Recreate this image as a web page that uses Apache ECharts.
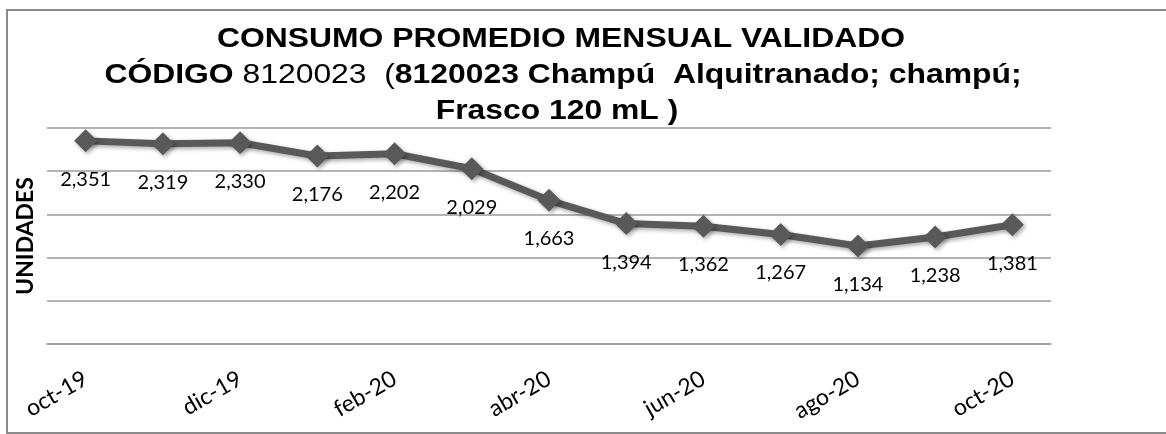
<!DOCTYPE html>
<html>
<head>
<meta charset="utf-8">
<title>Consumo promedio mensual validado</title>
<script src="https://cdn.jsdelivr.net/npm/echarts@6/dist/echarts.min.js"></script>
<style>
  html, body { margin: 0; padding: 0; background: #fff; }
  #chart { width: 1166px; height: 434px; }
</style>
</head>
<body>
<div id="chart"></div>
<script>
// meses (eje x)
const months = ["oct-19", "nov-19", "dic-19", "ene-20", "feb-20", "mar-20", "abr-20",
  "may-20", "jun-20", "jul-20", "ago-20", "sep-20", "oct-20"];
// consumo por mes
const unidades = [2351, 2319, 2330, 2176, 2202, 2029, 1663, 1394, 1362, 1267, 1134, 1238, 1381];
// eje y sin etiquetas visibles
const yTicks = [0, 500, 1000, 1500, 2000, 2500];

const titleLine1 = "CONSUMO PROMEDIO MENSUAL VALIDADO";
const titleLine2 = "{b|CÓDIGO}{n| 8120023  (}{b|8120023 Champú  Alquitranado; champú;}";
const titleLine3 = "Frasco 120 mL )";

const lineColor = "#595959";
const gridColor = "#9a9a9a";
const stretch = 1.18; // el original viene estirado en horizontal
const labelFont = "Lato, 'Open Sans', sans-serif";

const titleFont = {
  fontFamily: "'Liberation Sans', Arial, sans-serif",
  fontSize: 27,
  fill: "#000"
};

const option = {
  animation: false,
  grid: {
    left: 47,
    right: 115,
    top: 128,
    bottom: 90
  },
  graphic: [
    {
      // marco exterior
      type: "rect",
      shape: { x: 7, y: 10, width: 1175, height: 423 },
      style: { fill: null, stroke: "#8a8a8a", lineWidth: 2 },
      silent: true
    },
    {
      type: "text",
      x: 561,
      y: 40,
      scaleX: stretch,
      style: Object.assign({}, titleFont, {
        text: titleLine1,
        fontWeight: "bold",
        align: "center",
        verticalAlign: "middle"
      })
    },
    {
      type: "text",
      x: 563,
      y: 76,
      scaleX: stretch,
      style: Object.assign({}, titleFont, {
        text: titleLine2,
        align: "center",
        verticalAlign: "middle",
        rich: {
          b: { fontFamily: titleFont.fontFamily, fontSize: 27, fontWeight: "bold", fill: "#000" },
          n: { fontFamily: titleFont.fontFamily, fontSize: 27, fontWeight: "normal", fill: "#000" }
        }
      })
    },
    {
      type: "text",
      x: 557,
      y: 112,
      scaleX: stretch,
      style: Object.assign({}, titleFont, {
        text: titleLine3,
        fontWeight: "bold",
        align: "center",
        verticalAlign: "middle"
      })
    }
  ],
  xAxis: {
    type: "category",
    boundaryGap: true,
    data: months,
    axisLine: { show: true, lineStyle: { color: gridColor, width: 1.5 } },
    axisTick: { show: false },
    axisLabel: {
      interval: 1,
      rotate: 30,
      margin: 33,
      fontFamily: labelFont,
      fontSize: 23,
      color: "#000"
    }
  },
  yAxis: {
    type: "value",
    min: yTicks[0],
    max: yTicks[yTicks.length - 1],
    interval: 500,
    name: "UNIDADES",
    nameLocation: "middle",
    nameRotate: 90,
    nameGap: 10,
    nameTextStyle: {
      fontFamily: labelFont,
      fontWeight: "bold",
      fontSize: 23,
      color: "#000"
    },
    axisLine: { show: false },
    axisTick: { show: false },
    axisLabel: { show: false },
    splitLine: { lineStyle: { color: gridColor, width: 1.5 } }
  },
  series: [
    {
      name: "Unidades",
      type: "line",
      data: unidades,
      symbol: "diamond",
      symbolSize: 23,
      itemStyle: {
        color: lineColor,
        shadowColor: "rgba(0,0,0,0.35)",
        shadowBlur: 4,
        shadowOffsetX: 2,
        shadowOffsetY: 2
      },
      lineStyle: {
        color: lineColor,
        width: 7,
        shadowColor: "rgba(0,0,0,0.35)",
        shadowBlur: 4,
        shadowOffsetX: 2,
        shadowOffsetY: 2
      },
      label: {
        show: true,
        position: "bottom",
        distance: 17,
        fontFamily: labelFont,
        fontSize: 20,
        color: "#000",
        formatter: function (p) {
          return p.value.toLocaleString("en-US");
        }
      }
    }
  ]
};

const chart = echarts.init(document.getElementById("chart"));
chart.setOption(option);
</script>
</body>
</html>
